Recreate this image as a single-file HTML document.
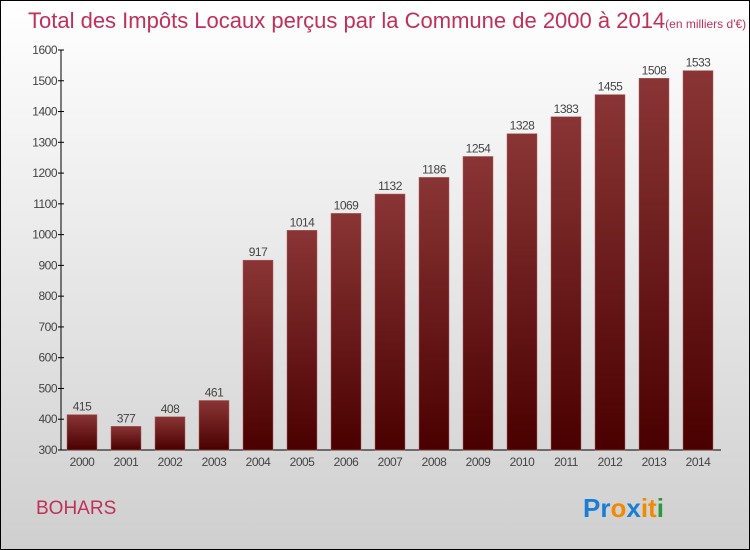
<!DOCTYPE html>
<html><head><meta charset="utf-8"><style>
body{margin:0}
#c{width:750px;height:550px;position:relative;overflow:hidden;font-family:"Liberation Sans",sans-serif}
</style></head><body>
<div id="c">
<svg width="750" height="550" xmlns="http://www.w3.org/2000/svg">
<defs>
<linearGradient id="bg" x1="0" y1="0" x2="0" y2="1"><stop offset="0" stop-color="#ffffff"/><stop offset="1" stop-color="#cfcfcf"/></linearGradient>
<linearGradient id="bar" x1="0" y1="0" x2="0" y2="1"><stop offset="0" stop-color="#8a3535"/><stop offset="1" stop-color="#4a0000"/></linearGradient>
</defs>
<rect x="0.5" y="0.5" width="749" height="549" fill="url(#bg)" stroke="#000"/>
<text x="28" y="28" font-size="22" fill="#c0305a">Total des Impôts Locaux perçus par la Commune de 2000 à 2014<tspan font-size="12">(en milliers d'€)</tspan></text>
<g id="axes"></g>
<g id="bars"></g>
<text x="36" y="514" font-size="19" fill="#c0305a">BOHARS</text>
<g font-size="26" font-family="'Liberation Sans',sans-serif" font-weight="bold">
<text x="583" y="517"><tspan fill="#1a7fd4">Pr</tspan><tspan fill="#f08a00">o</tspan><tspan fill="#1a7fd4">x</tspan><tspan fill="#f08a00">it</tspan><tspan fill="#2a9a3a">i</tspan></text>
</g>
</svg>
</div>
<script>
const years=["2000","2001","2002","2003","2004","2005","2006","2007","2008","2009","2010","2011","2012","2013","2014"];
const values=[415,377,408,461,917,1014,1069,1132,1186,1254,1328,1383,1455,1508,1533];
const ticks=[300,400,500,600,700,800,900,1000,1100,1200,1300,1400,1500,1600];
const NS="http://www.w3.org/2000/svg";
const y=v=>450-(v-300)*(400/1300);
const x=i=>82+i*44;
const axes=document.getElementById('axes'),bars=document.getElementById('bars');
function mk(tag,at,parent){const e=document.createElementNS(NS,tag);for(const k in at)e.setAttribute(k,at[k]);parent.appendChild(e);return e;}
let l=mk('line',{x1:61,y1:50,x2:61,y2:450,stroke:'#000'},axes);


l=mk('line',{x1:61,y1:450,x2:721,y2:450,stroke:'#000'},axes);


ticks.forEach(t=>{
 const tk=mk('line',{x1:58,x2:64,y1:y(t),y2:y(t),stroke:'#000'},axes);
 
 
 const tx=mk('text',{x:57,y:y(t)+4,'text-anchor':'end','font-size':12,fill:'#444','letter-spacing':'-0.5'},axes);
 tx.textContent=t;
 
 
});
values.forEach((v,i)=>{
 const r=mk('rect',{x:x(i)-15,y:y(v),width:30,height:450-y(v),fill:'url(#bar)',stroke:'#b06060','stroke-width':0.5},bars);
 
 
 const vl=mk('text',{x:x(i),y:y(v)-4,'text-anchor':'middle','font-size':12,fill:'#444','letter-spacing':'-0.5'},bars);
 vl.textContent=v;
 
 
 const xl=mk('text',{x:x(i),y:466,'text-anchor':'middle','font-size':12,fill:'#444','letter-spacing':'-0.5'},bars);
 xl.textContent=years[i];
 
 
});
</script>
</body></html>
